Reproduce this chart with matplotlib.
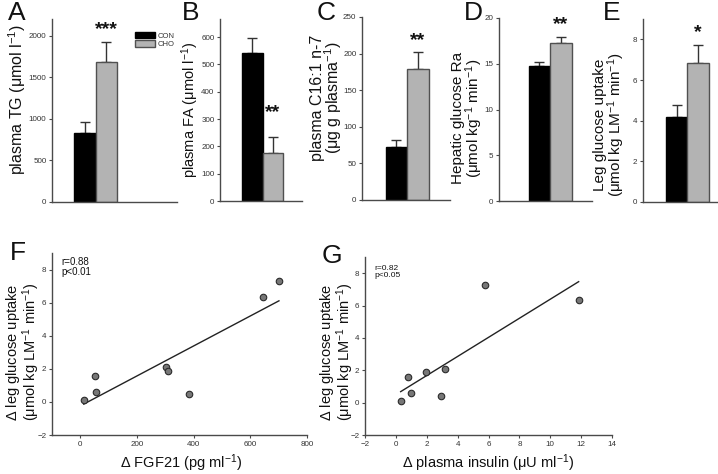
import matplotlib
matplotlib.use("Agg")
import matplotlib.pyplot as plt
import numpy as np

plt.rcParams['font.family'] = ['Liberation Sans', 'DejaVu Sans']
plt.rcParams['mathtext.fontset'] = 'custom'
plt.rcParams['mathtext.rm'] = 'Liberation Sans'
plt.rcParams['mathtext.it'] = 'Liberation Sans'

# ---------------- data ----------------
groups = ["CON", "CHO"]
tg_mean = [835, 1680];   tg_sem = [125, 245]
fa_mean = [540, 175];    fa_sem = [58, 60]
c16_mean = [73, 179];    c16_sem = [9, 23]
ra_mean = [14.8, 17.3];  ra_sem = [0.4, 0.6]
leg_mean = [4.2, 6.85];  leg_sem = [0.55, 0.85]
stars = ["***", "**", "**", "**", "*"]

fgf21 = [12, 50, 56, 304, 309, 382, 645, 701]
leg_delta_f = [0.12, 1.57, 0.60, 2.10, 1.88, 0.45, 6.33, 7.30]
insulin = [0.31, 0.76, 1.00, 1.92, 2.92, 3.20, 5.78, 11.84]
leg_delta_g = [0.13, 1.56, 0.61, 1.89, 0.44, 2.10, 7.27, 6.32]

W, H = 718, 474
fig = plt.figure(figsize=(W / 100, H / 100), dpi=100)

def ax_px(l, r, t, b):
    return fig.add_axes([l / W, 1 - b / H, (r - l) / W, (b - t) / H])

spine_c = '#4a4a4a'
tick_c = '#333333'

def style(ax):
    for s in ['top', 'right']:
        ax.spines[s].set_visible(False)
    for s in ['left', 'bottom']:
        ax.spines[s].set_color(spine_c)
        ax.spines[s].set_linewidth(1.0)
    ax.tick_params(axis='both', direction='out', length=2.2, width=0.8,
                   color=spine_c, labelsize=5.8, labelcolor=tick_c, pad=1.8)

def ftext(x, y, s, **kw):
    fig.text(x / W, 1 - y / H, s, **kw)

# ---------------- bar panels ----------------
bar_panels = [
    # (rect px l, r, t, b), means, sems, ylim, ystep, xlim, star offset pt
    ((52, 177, 19, 202), tg_mean, tg_sem, 2200, 500, (-1.53, 4.28), 3),
    ((220, 302, 19, 201), fa_mean, fa_sem, 666, 100, (-1.56, 2.41), 11),
    ((362, 450, 17, 200), c16_mean, c16_sem, 250, 50, (-1.6, 2.49), 2),
    ((499, 592, 18, 201), ra_mean, ra_sem, 20, 5, (-1.88, 2.44), 3),
    ((643, 718, 19, 202), leg_mean, leg_sem, 9, 2, (-1.56, 1.93), 3),
]
colors = ['#000000', '#b3b3b3']
edges = ['#000000', '#505050']

axes_bar = []
for i, (rect, means, sems, ymax, ystep, xl, soff) in enumerate(bar_panels):
    ax = ax_px(*rect)
    style(ax)
    handles = []
    for j, g in enumerate(groups):
        h = ax.bar(j, means[j], width=1.0, color=colors[j], edgecolor=edges[j],
                   linewidth=1.0, label=g, zorder=2)
        handles.append(h)
        ax.errorbar(j, means[j], yerr=[[0], [sems[j]]], fmt='none',
                    ecolor='#333333', elinewidth=1.0, capsize=3.5, capthick=1.0,
                    zorder=1)
    ax.set_xlim(*xl)
    ax.set_ylim(0, ymax)
    ax.set_yticks(np.arange(0, ymax + 1e-9, ystep))
    ax.set_xticks([])
    ax.annotate(stars[i], xy=(1, means[1] + sems[1]), xytext=(0, soff),
                textcoords='offset points', ha='center', va='bottom',
                fontsize=14, fontweight='bold', color='#111111')
    axes_bar.append((ax, handles))

# legend in panel A
axA, hA = axes_bar[0]
axA.legend(handles=hA, labels=groups, loc='upper left',
           bbox_to_anchor=(131 / W, 1 - 28 / H), bbox_transform=fig.transFigure,
           frameon=False, fontsize=5.5, handlelength=2.6, handleheight=0.9,
           handletextpad=0.4, labelspacing=0.1, borderpad=0, labelcolor=tick_c)

# y labels
def ylab(x, y, s, fs, ls=0.85):
    ftext(x, y, s, rotation=90, ha='center', va='center', fontsize=fs,
          color='#111111', multialignment='center', linespacing=ls)

ylab(17, 100, r'plasma TG ($\mu$mol l$^{-1}$)', 11.5)
ylab(190, 110, r'plasma FA ($\mu$mol l$^{-1}$)', 10.5)
ylab(327, 98, 'plasma C16:1 n-7\n' + r'($\mu$g g plasma$^{-1}$)', 11.5)
ylab(468, 118, 'Hepatic glucose Ra\n' + r'($\mu$mol kg$^{-1}$ min$^{-1}$)', 11)
ylab(610, 125, 'Leg glucose uptake\n' + r'($\mu$mol kg LM$^{-1}$ min$^{-1}$)', 11)

# panel letters
let_kw = dict(ha='center', va='center', fontsize=19, color='#111111')
for s, x, y in [('A', 17, 13), ('B', 191, 13), ('C', 326, 13), ('D', 473, 13),
                ('E', 612, 13), ('F', 18, 253), ('G', 332, 256)]:
    ftext(x, y, s, **let_kw)

# ---------------- scatter panels ----------------
def scatter_panel(rect, x, y, xlim, xticks, note, note_xy, note_fs):
    ax = ax_px(*rect)
    style(ax)
    x = np.asarray(x); y = np.asarray(y)
    ax.scatter(x, y, s=22, c='#777777', edgecolors='#2a2a2a', linewidths=0.8,
               zorder=3)
    k, b = np.polyfit(x, y, 1)
    xs = np.array([x.min(), x.max()])
    ax.plot(xs, k * xs + b, color='#222222', lw=1.0, zorder=2)
    ax.set_xlim(*xlim)
    ax.set_xticks(xticks)
    ax.set_ylim(-2, 9)
    ax.set_yticks(np.arange(-2, 9, 2))
    ftext(note_xy[0], note_xy[1], note, ha='left', va='top', fontsize=note_fs,
          color='#111111', linespacing=1.0)
    return ax

scatter_panel((52, 307, 253, 435), fgf21, leg_delta_f, (-100, 800),
              np.arange(0, 801, 200), 'r=0.88\np<0.01', (61, 257), 7)
scatter_panel((365, 612, 257, 435), insulin, leg_delta_g, (-2, 14),
              np.arange(-2, 15, 2), 'r=0.82\np<0.05', (374, 265), 6)

scat_lab = r'$\Delta$ leg glucose uptake' + '\n' + r'($\mu$mol kg LM$^{-1}$ min$^{-1}$)'
ylab(23, 352, scat_lab, 10.5, 0.95)
ylab(337, 352, scat_lab, 10.5, 0.95)
ftext(181, 463, r'$\Delta$ FGF21 (pg ml$^{-1}$)', ha='center', va='center',
      fontsize=10.5, color='#111111')
ftext(488, 463, r'$\Delta$ plasma insulin ($\mu$U ml$^{-1}$)', ha='center',
      va='center', fontsize=10.5, color='#111111')

fig.savefig('out.png', dpi=100)
